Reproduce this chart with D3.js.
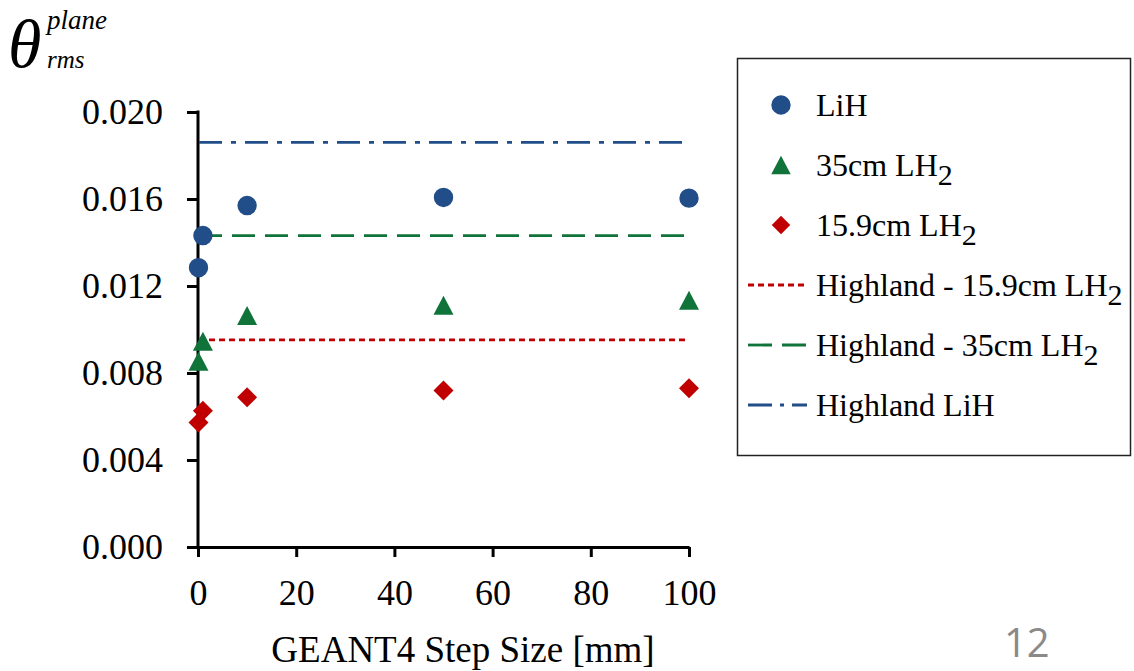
<!DOCTYPE html>
<html>
<head>
<meta charset="utf-8">
<script src="https://cdn.jsdelivr.net/npm/d3@7"></script>
<style>
  body { margin: 0; background: #fff; }
  svg text { font-family: 'Liberation Serif', 'Times New Roman', serif; fill: #000; }
</style>
</head>
<body>
<div class="canvas"></div>
<script>
// data
const stepSizes = [0.1, 1, 10, 50, 100];
const lihValues = [0.01284, 0.01432, 0.01570, 0.01607, 0.01604];
const lh35Values = [0.00854, 0.00946, 0.01064, 0.01111, 0.01134];
const lh159Values = [0.00572, 0.00627, 0.00688, 0.00719, 0.00730];

const highlandLH159 = 0.00952;
const highlandLH35 = 0.01432;
const highlandLiH = 0.01860;

const xTicks = [0, 20, 40, 60, 80, 100];
const yTicks = [0, 0.004, 0.008, 0.012, 0.016, 0.020];

const blue = '#214d88';
const green = '#10733a';
const red = '#c00000';

// graph
const dims = { width: 1134, height: 671 };

const svg = d3
  .select('.canvas')
  .append('svg')
  .attr('width', dims.width)
  .attr('height', dims.height);

svg.append('rect').attr('width', dims.width).attr('height', dims.height).attr('fill', '#fff');

const x = d3.scaleLinear().domain([0, 100]).range([198, 689]);
const y = d3.scaleLinear().domain([0, 0.02]).range([547, 112]);

// custom marker shapes
const triangle = {
  draw(context, size) {
    const r = Math.sqrt(size) / 2;
    context.moveTo(0, -r * 0.95);
    context.lineTo(r, r * 0.95);
    context.lineTo(-r, r * 0.95);
    context.closePath();
  }
};
const diamond = {
  draw(context, size) {
    const r = Math.sqrt(size) / 2;
    context.moveTo(0, -r);
    context.lineTo(r, 0);
    context.lineTo(0, r);
    context.lineTo(-r, 0);
    context.closePath();
  }
};

// axes
const yAxis = d3.axisLeft(y)
  .tickValues(yTicks)
  .tickFormat(d3.format('.3f'))
  .tickSizeInner(11)
  .tickSizeOuter(0)
  .tickPadding(24);

const xAxis = d3.axisBottom(x)
  .tickValues(xTicks)
  .tickFormat(d3.format('d'))
  .tickSizeInner(10)
  .tickSizeOuter(0);

const yG = svg.append('g').attr('transform', `translate(${x(0)},0)`).call(yAxis);
const xG = svg.append('g').attr('transform', `translate(0,${y(0)})`).call(xAxis);

[yG, xG].forEach((g) => {
  g.selectAll('path, line').attr('stroke', '#000').attr('stroke-width', 3);
  g.selectAll('text').attr('font-size', 36).attr('font-family', 'Liberation Serif').attr('fill', '#000');
});
xG.selectAll('text').attr('y', 45).attr('dy', '0.35em');
yG.select('.domain').attr('d', `M0,${y(0)}V${y(0.02) - 1.5}`);

// highland reference lines
const refLines = [
  { value: highlandLH159, color: red, dash: '6,4' },
  { value: highlandLH35, color: green, dash: '23,10' },
  { value: highlandLiH, color: blue, dash: '23,9,5,9' }
];

svg.selectAll('line.ref')
  .data(refLines)
  .enter()
  .append('line')
  .attr('class', 'ref')
  .attr('x1', x(0) + 1)
  .attr('x2', x(100))
  .attr('y1', (d) => y(d.value))
  .attr('y2', (d) => y(d.value))
  .attr('stroke', (d) => d.color)
  .attr('stroke-width', 2.8)
  .attr('stroke-dasharray', (d) => d.dash);

// markers
const series = [
  { values: lihValues, color: blue, type: d3.symbolCircle, size: Math.PI * 9.7 * 9.7 },
  { values: lh35Values, color: green, type: triangle, size: 400 },
  { values: lh159Values, color: red, type: diamond, size: 400 }
];

series.forEach((s) => {
  const sym = d3.symbol().type(s.type).size(s.size);
  svg.append('g')
    .selectAll('path')
    .data(stepSizes.map((d, i) => ({ x: d, v: s.values[i] })))
    .enter()
    .append('path')
    .attr('d', sym)
    .attr('fill', s.color)
    .attr('transform', (d) => `translate(${x(d.x)},${y(d.v)})`);
});

// y axis title
const title = svg.append('text').attr('font-style', 'italic');
title.append('tspan').attr('x', 8).attr('y', 67).attr('font-size', 68).text('θ');
title.append('tspan').attr('x', 47).attr('y', 29).attr('font-size', 27).text('plane');
title.append('tspan').attr('x', 47).attr('y', 68).attr('font-size', 25).text('rms');

// x axis title
svg.append('text')
  .attr('x', 463)
  .attr('y', 649)
  .attr('dy', '0.35em')
  .attr('text-anchor', 'middle')
  .attr('font-size', 37)
  .text('GEANT4 Step Size [mm]');

// legend
const legendGroup = svg.append('g');
legendGroup.append('rect')
  .attr('x', 737.5)
  .attr('y', 58.5)
  .attr('width', 393)
  .attr('height', 397)
  .attr('fill', '#fff')
  .attr('stroke', '#222')
  .attr('stroke-width', 1.5);

const legendItems = [
  { label: 'LiH', sub: '', marker: d3.symbolCircle, size: Math.PI * 9.7 * 9.7, color: blue },
  { label: '35cm LH', sub: '2', marker: triangle, size: 380, color: green },
  { label: '15.9cm LH', sub: '2', marker: diamond, size: 340, color: red },
  { label: 'Highland - 15.9cm LH', sub: '2', dash: '6,4', color: red },
  { label: 'Highland - 35cm LH', sub: '2', dash: '24,10', color: green },
  { label: 'Highland LiH', sub: '', dash: '24,8,4,8', color: blue }
];

const rowY = d3.scaleLinear().domain([0, 5]).range([105, 405]);

legendItems.forEach((item, i) => {
  const cy = rowY(i);
  if (item.marker) {
    legendGroup.append('path')
      .attr('d', d3.symbol().type(item.marker).size(item.size))
      .attr('fill', item.color)
      .attr('transform', `translate(781,${cy})`);
  } else {
    legendGroup.append('line')
      .attr('x1', 748)
      .attr('x2', 807)
      .attr('y1', cy)
      .attr('y2', cy)
      .attr('stroke', item.color)
      .attr('stroke-width', 2.8)
      .attr('stroke-dasharray', item.dash);
  }
  const t = legendGroup.append('text')
    .attr('x', 816)
    .attr('y', cy + 11)
    .attr('font-size', 32);
  t.append('tspan').text(item.label);
  if (item.sub) {
    t.append('tspan').attr('dy', 9).attr('font-size', 30).text(item.sub);
  }
});

// slide number
svg.append('text')
  .attr('x', 1004)
  .attr('y', 657)
  .attr('font-size', 40)
  .style('font-family', "'Open Sans', sans-serif")
  .style('fill', '#8a8a8a')
  .text('12');
</script>
</body>
</html>
